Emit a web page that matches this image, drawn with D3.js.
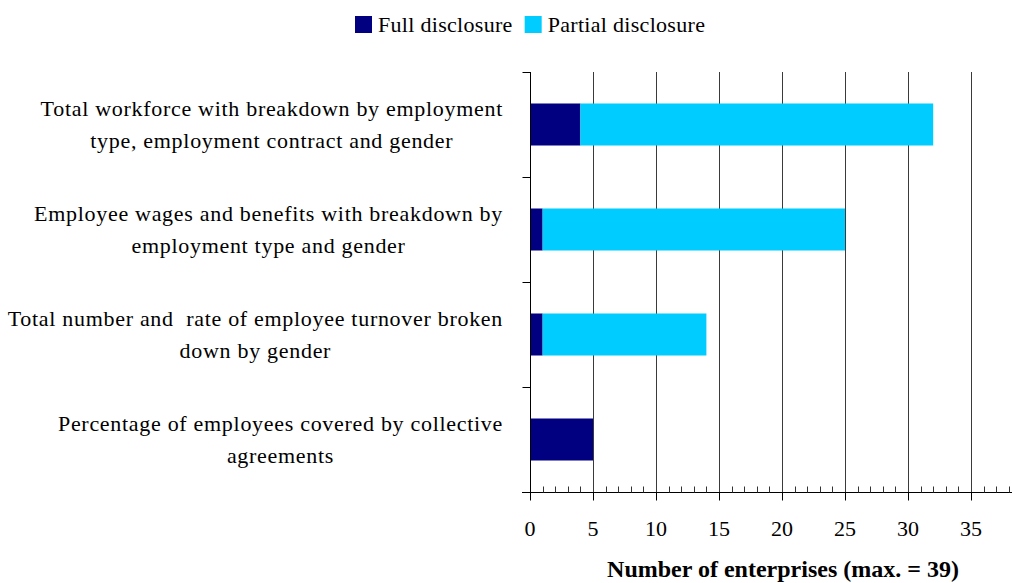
<!DOCTYPE html>
<html>
<head>
<meta charset="utf-8">
<script src="https://cdn.jsdelivr.net/npm/d3@7"></script>
<style>
  html, body { margin: 0; padding: 0; background: #fff; }
  svg { display: block; }
</style>
</head>
<body>
<svg id="chart" width="1012" height="583"></svg>
<script>
// Disclosure of employment indicators, count of enterprises (max. = 39)
const categories = [
  ["Total workforce with breakdown by employment", "type, employment contract and gender"],
  ["Employee wages and benefits with breakdown by", "employment type and gender"],
  ["Total number and  rate of employee turnover broken", "down by gender"],
  ["Percentage of employees covered by collective", "agreements"]
];
const seriesNames = ["Full disclosure", "Partial disclosure"];
const fullDisclosure = [4, 1, 1, 5];
const partialDisclosure = [28, 24, 13, 0];
const xTicks = [0, 5, 10, 15, 20, 25, 30, 35];
const axisTitle = "Number of enterprises (max. = 39)";

const FONT = "'Liberation Serif', 'Times New Roman', serif";
const colors = ["#000080", "#00CCFF"];
const svg = d3.select("#chart");

const plot = { left: 530, top: 72, bottom: 492 };
const x = d3.scaleLinear().domain([0, 40]).range([plot.left, plot.left + 40 * 12.6]);
const keys = categories.map((c, i) => i);
const y = d3.scaleBand().domain(keys).range([plot.top, plot.bottom])
  .paddingInner(0.6).paddingOuter(0.3);

const rows = keys.map(i => ({ i, full: fullDisclosure[i], partial: partialDisclosure[i] }));
const stacked = d3.stack().keys(["full", "partial"])(rows);

function txt(sel, size, weight) {
  return sel.style("font-family", FONT).style("font-size", size + "px")
    .style("font-weight", weight || "normal").attr("fill", "#000");
}

// vertical gridlines at major ticks
svg.append("g").selectAll("line")
  .data(xTicks.filter(d => d > 0))
  .join("line")
  .attr("x1", d => Math.round(x(d)) + 0.5).attr("x2", d => Math.round(x(d)) + 0.5)
  .attr("y1", plot.top).attr("y2", plot.bottom)
  .attr("stroke", "#3a3a3a").attr("stroke-width", 1);

// stacked bars
svg.append("g").selectAll("g")
  .data(stacked)
  .join("g")
  .attr("fill", (d, k) => colors[k])
  .selectAll("rect")
  .data(d => d)
  .join("rect")
  .attr("x", d => x(d[0]))
  .attr("y", d => y(d.data.i))
  .attr("width", d => x(d[1]) - x(d[0]))
  .attr("height", y.bandwidth());

// x axis: major ticks down, minor ticks up
const xAxisG = svg.append("g").attr("transform", `translate(0,${plot.bottom + 0.5})`);
xAxisG.append("line")
  .attr("x1", plot.left - 8).attr("x2", 1012)
  .attr("stroke", "#000");
xAxisG.selectAll("line.minor")
  .data(d3.range(1, 40).filter(v => v % 5 !== 0))
  .join("line").attr("class", "minor")
  .attr("x1", d => Math.round(x(d)) + 0.5).attr("x2", d => Math.round(x(d)) + 0.5)
  .attr("y1", 0).attr("y2", -6)
  .attr("stroke", "#333");
xAxisG.selectAll("line.major")
  .data(d3.range(0, 41, 5))
  .join("line").attr("class", "major")
  .attr("x1", d => Math.round(x(d)) + 0.5).attr("x2", d => Math.round(x(d)) + 0.5)
  .attr("y1", 0).attr("y2", 8)
  .attr("stroke", "#000");
txt(xAxisG.selectAll("text")
  .data(xTicks)
  .join("text")
  .attr("x", d => x(d))
  .attr("y", 43)
  .attr("text-anchor", "middle"), 22)
  .text(d => d);

// y axis with ticks at band boundaries
const yAxisG = svg.append("g").attr("transform", `translate(${plot.left + 0.5},0)`);
yAxisG.append("line")
  .attr("y1", plot.top).attr("y2", plot.bottom + 8)
  .attr("stroke", "#000");
const edges = [plot.top]
  .concat(keys.slice(1).map(i => (y(i - 1) + y.bandwidth() + y(i)) / 2))
  .concat([plot.bottom]);
yAxisG.selectAll("line.cat")
  .data(edges)
  .join("line").attr("class", "cat")
  .attr("x1", -8).attr("x2", 0)
  .attr("y1", d => Math.round(d) + 0.5).attr("y2", d => Math.round(d) + 0.5)
  .attr("stroke", "#000");

// category labels: each block ends near the axis, lines centred in the block
const labelRight = 503;
const labelG = svg.append("g");
categories.forEach((lines, i) => {
  const g = labelG.append("g");
  const cy = y(i) + y.bandwidth() / 2;
  const texts = lines.map((ln, j) => txt(g.append("text")
    .attr("y", cy + (j - (lines.length - 1) / 2) * 32 + 7)
    .attr("text-anchor", "middle"), 22)
    .style("letter-spacing", "0.7px")
    .style("white-space", "pre")
    .text(ln));
  const w = d3.max(texts, t => t.node().getComputedTextLength());
  texts.forEach(t => t.attr("x", labelRight - w / 2));
});

// axis title
txt(svg.append("text")
  .attr("x", 783).attr("y", 577)
  .attr("text-anchor", "middle"), 24, "bold")
  .text(axisTitle);

// legend
const legend = svg.append("g");
let lx = 355;
seriesNames.forEach((name, k) => {
  legend.append("rect")
    .attr("x", lx).attr("y", 16).attr("width", 17).attr("height", 17)
    .attr("fill", colors[k]);
  const t = txt(legend.append("text")
    .attr("x", lx + 23).attr("y", 32), 22)
    .style("letter-spacing", "0.3px")
    .text(name);
  lx += 23 + t.node().getComputedTextLength() + 12;
});
</script>
</body>
</html>
